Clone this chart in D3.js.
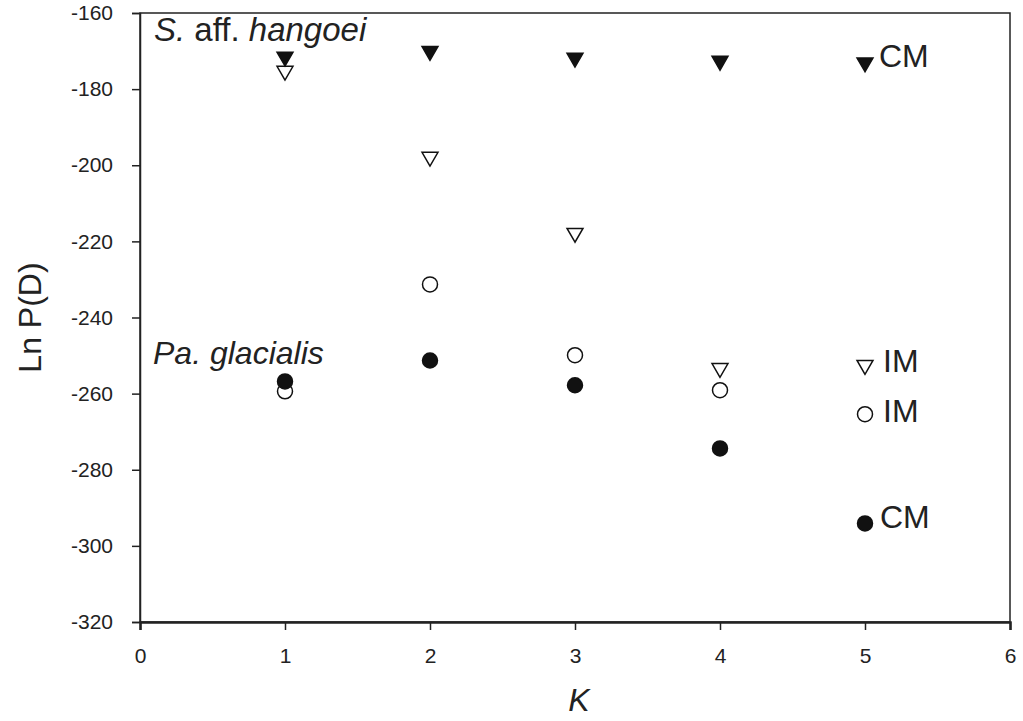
<!DOCTYPE html>
<html lang="en">
<head>
    <meta charset="UTF-8">
    <title>Ln P(D) vs K</title>
    <style>
        body, html {
            margin: 0;
            padding: 0;
            background: #fff;
            font-family: "Liberation Sans", Arial, sans-serif;
        }
        .tick text {
            font-size: 21px;
            fill: #222;
        }
        .domain, .tick line {
            stroke: #222;
        }
    </style>
    <script src="https://d3js.org/d3.v7.min.js"></script>
</head>
<body>
    <div id="chart"></div>
    <script>
        // data
        const kValues = [1, 2, 3, 4, 5];
        const sHangoeiCM = [-171.5, -170.0, -171.8, -172.6, -173.0];
        const sHangoeiIM = [-175.2, -197.8, -217.8, -253.3, -252.5];
        const paGlacialisCM = [-256.8, -251.3, -257.8, -274.4, -294.1];
        const paGlacialisIM = [-259.4, -231.3, -249.9, -259.1, -265.4];
        const xTicks = [0, 1, 2, 3, 4, 5, 6];
        const yTicks = [-160, -180, -200, -220, -240, -260, -280, -300, -320];

        const width = 1023, height = 721;
        const margin = { left: 140, top: 13, right: 13, bottom: 99 };

        const svg = d3.select("#chart").append("svg")
            .attr("width", width)
            .attr("height", height);

        const x = d3.scaleLinear().domain([0, 6]).range([margin.left, width - margin.right]);
        const y = d3.scaleLinear().domain([-320, -160]).range([height - margin.bottom, margin.top]);

        // plain hyphen for negatives, like the original
        const fmt = d => String(d);

        // frame
        svg.append("rect")
            .attr("x", x(0)).attr("y", y(-160))
            .attr("width", x(6) - x(0)).attr("height", y(-320) - y(-160))
            .attr("fill", "none").attr("stroke", "#222").attr("stroke-width", 1.5);

        const xAxis = svg.append("g")
            .attr("transform", `translate(0,${y(-320)})`)
            .call(d3.axisBottom(x).tickValues(xTicks).tickSize(8).tickPadding(18).tickFormat(fmt));
        xAxis.select(".domain").attr("stroke-width", 2.5);
        xAxis.selectAll(".tick line").attr("stroke-width", 1.5);

        const yAxis = svg.append("g")
            .attr("transform", `translate(${x(0)},0)`)
            .call(d3.axisLeft(y).tickValues(yTicks).tickSize(8).tickPadding(19).tickFormat(fmt));
        yAxis.select(".domain").attr("stroke-width", 1.5);
        yAxis.selectAll(".tick line").attr("stroke-width", 1.5);

        // axis titles
        svg.append("text")
            .attr("transform", `translate(41,${(y(-160) + y(-320)) / 2}) rotate(-90)`)
            .attr("text-anchor", "middle")
            .style("font-size", "32px")
            .attr("fill", "#222")
            .text("Ln P(D)");

        svg.append("text")
            .attr("x", x(3) + 4).attr("y", 711)
            .attr("text-anchor", "middle")
            .style("font-size", "32px")
            .style("font-style", "italic")
            .attr("fill", "#222")
            .text("K");

        const triDown = d3.symbol().type(d3.symbolTriangle).size(110);

        function drawSeries(vals, kind, filled) {
            const g = svg.append("g");
            const pts = kValues.map((k, i) => ({ k, v: vals[i] }));
            if (kind === "tri") {
                g.selectAll("path").data(pts).enter().append("path")
                    .attr("d", triDown)
                    .attr("transform", d => `translate(${x(d.k)},${y(d.v)}) rotate(180)`)
                    .attr("fill", filled ? "#111" : "#fff")
                    .attr("stroke", "#111")
                    .attr("stroke-width", 1.5);
            } else {
                g.selectAll("circle").data(pts).enter().append("circle")
                    .attr("cx", d => x(d.k)).attr("cy", d => y(d.v))
                    .attr("r", 7.5)
                    .attr("fill", filled ? "#111" : "#fff")
                    .attr("stroke", "#111")
                    .attr("stroke-width", 1.5);
            }
        }

        drawSeries(sHangoeiIM, "tri", false);
        drawSeries(sHangoeiCM, "tri", true);
        drawSeries(paGlacialisIM, "circ", false);
        drawSeries(paGlacialisCM, "circ", true);

        // species labels
        const lab1 = svg.append("text")
            .attr("x", 154).attr("y", 41)
            .style("font-size", "33px").attr("fill", "#222");
        lab1.append("tspan").style("font-style", "italic").text("S.");
        lab1.append("tspan").text(" aff. ");
        lab1.append("tspan").style("font-style", "italic").text("hangoei");

        svg.append("text")
            .attr("x", 153).attr("y", 364)
            .style("font-size", "32px").style("font-style", "italic")
            .attr("fill", "#222")
            .text("Pa. glacialis");

        // series end labels
        const endLabels = [
            { text: "CM", v: sHangoeiCM[4], dx: 14, dy: 5 },
            { text: "IM", v: sHangoeiIM[4], dx: 18, dy: 7 },
            { text: "IM", v: paGlacialisIM[4], dx: 18, dy: 8 },
            { text: "CM", v: paGlacialisCM[4], dx: 15, dy: 5 }
        ];
        svg.selectAll(".end-label").data(endLabels).enter().append("text")
            .attr("class", "end-label")
            .attr("x", d => x(5) + d.dx)
            .attr("y", d => y(d.v) + d.dy)
            .style("font-size", "32px")
            .attr("fill", "#222")
            .text(d => d.text);
    </script>
</body>
</html>
